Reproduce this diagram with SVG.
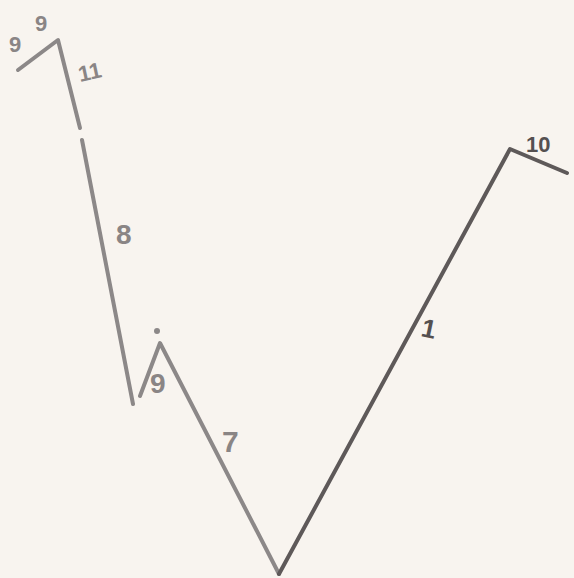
<svg xmlns="http://www.w3.org/2000/svg" width="574" height="578" viewBox="0 0 574 578">
<style>
.ln{fill:none;stroke:#8c8888;stroke-width:4;stroke-linecap:round;stroke-linejoin:round}
.dk{stroke:#5e5959}
.lb{font-family:"Liberation Sans",sans-serif;font-weight:bold;fill:#8a8585}
.lbd{fill:#555050}
</style>
<rect width="574" height="578" fill="#f8f4ef"/>
<g id="connectors">
<polyline class="ln" points="18,70 38,55 58,40 80,128"/>
<line class="ln" x1="82" y1="140" x2="133" y2="404"/>
<polyline class="ln" points="140,396 160,343 279,574"/>
<circle cx="157" cy="331" r="3" fill="#8c8888"/>
<polyline class="ln dk" points="279,574 510,149 567,173"/>
</g>
<g id="labels">
<text class="lb" x="9" y="52" font-size="22">9</text>
<text class="lb" x="35" y="31" font-size="22">9</text>
<text class="lb" x="78" y="80" font-size="22" transform="rotate(-12 88 72)">11</text>
<text class="lb" x="116" y="244" font-size="28">8</text>
<text class="lb" x="150" y="393" font-size="28">9</text>
<text class="lb" x="222" y="452" font-size="30">7</text>
<text class="lb lbd" x="422" y="338" font-size="26" transform="rotate(12 430 328)">1</text>
<text class="lb lbd" x="526" y="152" font-size="22">10</text>
</g>
</svg>
